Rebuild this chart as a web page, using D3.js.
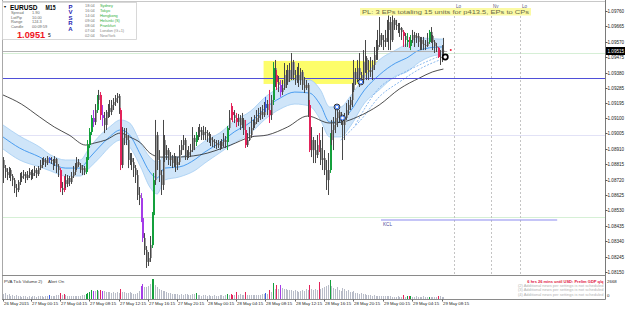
<!DOCTYPE html>
<html><head><meta charset="utf-8">
<script src="https://cdn.jsdelivr.net/npm/d3@7"></script>
<style>body{margin:0;background:#fff;}svg{display:block;}text{font-family:"Liberation Sans",Arial,sans-serif;}</style>
</head><body><svg id="c" width="625" height="309"></svg>
<script>
// ---------------- DATA ----------------
const firstOpen = 1.08841;
const closes = [
1.08791,1.08767,1.08748,1.08779,1.08742,1.08717,1.08668,1.08656,1.08705,1.08730,
1.08742,1.08754,1.08730,1.08748,1.08767,1.08742,1.08761,1.08779,1.08754,1.08791,
1.08810,1.08828,1.08841,1.08822,1.08853,1.08841,1.08835,1.08822,1.08847,1.08804,
1.08779,1.08668,1.08656,1.08717,1.08693,1.08730,1.08705,1.08742,1.08767,1.08791,
1.08828,1.08810,1.08779,1.08791,1.08767,1.08841,1.08933,1.09014,1.09100,1.09075,
1.09149,1.09211,1.09242,1.09118,1.09100,1.09057,1.09137,1.09162,1.09137,1.09180,
1.09199,1.09223,1.09236,1.09149,1.08810,1.08977,1.08995,1.08964,1.08841,1.08853,
1.08828,1.08791,1.08748,1.08625,1.08606,1.08483,1.08360,1.08286,1.08212,1.08236,
1.08316,1.08501,1.08717,1.08995,1.08841,1.08748,1.08687,1.08964,1.08872,1.08902,
1.08841,1.08853,1.08822,1.08853,1.08810,1.08828,1.08902,1.08933,1.08964,1.08865,
1.08872,1.08890,1.08902,1.08977,1.08952,1.08995,1.09014,1.09026,1.08995,1.09014,
1.09007,1.08989,1.08977,1.08964,1.08952,1.08946,1.08933,1.08940,1.08927,1.08952,
1.08964,1.08952,1.09038,1.09100,1.09137,1.09118,1.09100,1.09075,1.09100,1.09057,
1.09088,1.09026,1.08933,1.08964,1.08995,1.09038,1.09057,1.09075,1.09100,1.09118,
1.09137,1.09118,1.09162,1.09186,1.09149,1.09118,1.09211,1.09408,1.09365,1.09322,
1.09304,1.09260,1.09285,1.09365,1.09322,1.09396,1.09347,1.09445,1.09365,1.09334,
1.09365,1.09334,1.09384,1.09304,1.09285,1.09304,1.09180,1.08902,1.08964,1.08902,
1.08872,1.08933,1.08915,1.08841,1.08853,1.08779,1.08717,1.08779,1.08964,1.09026,
1.09057,1.09100,1.09137,1.09118,1.09100,1.09057,1.09100,1.09149,1.09180,1.09211,
1.09273,1.09384,1.09347,1.09408,1.09365,1.09334,1.09445,1.09470,1.09396,1.09384,
1.09396,1.09427,1.09489,1.09519,1.09550,1.09612,1.09581,1.09569,1.09594,1.09643,
1.09692,1.09581,1.09705,1.09674,1.09668,1.09643,1.09655,1.09631,1.09606,1.09581,
1.09569,1.09544,1.09581,1.09612,1.09594,1.09606,1.09569,1.09581,1.09557,1.09550,
1.09544,1.09569,1.09631,1.09606,1.09569,1.09544,1.09532,1.09476,1.09470,1.09507,1.09515];
const highs = [
1.08859,1.08810,1.08791,1.08798,1.08791,1.08754,1.08730,1.08693,1.08717,1.08761,
1.08767,1.08779,1.08767,1.08773,1.08791,1.08779,1.08785,1.08804,1.08791,1.08804,
1.08841,1.08853,1.08859,1.08853,1.08865,1.08859,1.08859,1.08847,1.08865,1.08853,
1.08816,1.08791,1.08705,1.08742,1.08754,1.08748,1.08742,1.08767,1.08804,1.08822,
1.08859,1.08847,1.08822,1.08810,1.08804,1.08859,1.08964,1.09038,1.09118,1.09149,
1.09186,1.09242,1.09273,1.09260,1.09180,1.09137,1.09149,1.09186,1.09211,1.09211,
1.09223,1.09242,1.09254,1.09248,1.09162,1.09044,1.09038,1.09038,1.08995,1.08884,
1.08884,1.08853,1.08810,1.08779,1.08674,1.08637,1.08501,1.08390,1.08310,1.08273,
1.08372,1.08520,1.08761,1.09088,1.09014,1.08902,1.08779,1.09088,1.08995,1.08933,
1.08915,1.08890,1.08872,1.08884,1.08865,1.08859,1.08933,1.08964,1.08995,1.08977,
1.08902,1.08927,1.08940,1.09044,1.08995,1.09014,1.09044,1.09063,1.09044,1.09051,
1.09044,1.09026,1.09014,1.09001,1.08983,1.08970,1.08964,1.08964,1.08958,1.08970,
1.09007,1.08989,1.09051,1.09149,1.09192,1.09174,1.09149,1.09131,1.09125,1.09118,
1.09131,1.09100,1.09088,1.09007,1.09044,1.09106,1.09088,1.09118,1.09149,1.09162,
1.09168,1.09180,1.09199,1.09230,1.09211,1.09273,1.09242,1.09445,1.09458,1.09396,
1.09359,1.09334,1.09334,1.09439,1.09396,1.09427,1.09439,1.09501,1.09458,1.09396,
1.09415,1.09439,1.09408,1.09396,1.09353,1.09334,1.09316,1.09211,1.09044,1.08983,
1.08964,1.08995,1.09007,1.08964,1.09044,1.08902,1.08841,1.08884,1.09007,1.09088,
1.09106,1.09168,1.09168,1.09149,1.09137,1.09106,1.09131,1.09192,1.09211,1.09230,
1.09316,1.09458,1.09408,1.09458,1.09501,1.09384,1.09519,1.09581,1.09482,1.09458,
1.09476,1.09458,1.09538,1.09581,1.09643,1.09723,1.09624,1.09612,1.09643,1.09705,
1.09735,1.09723,1.09735,1.09717,1.09705,1.09686,1.09686,1.09661,1.09643,1.09624,
1.09624,1.09600,1.09612,1.09643,1.09631,1.09624,1.09624,1.09600,1.09600,1.09600,
1.09581,1.09624,1.09643,1.09661,1.09612,1.09581,1.09563,1.09538,1.09519,1.09550,1.09594];
const lows = [
1.08699,1.08730,1.08717,1.08730,1.08711,1.08680,1.08637,1.08613,1.08643,1.08687,
1.08705,1.08724,1.08699,1.08717,1.08730,1.08717,1.08724,1.08742,1.08730,1.08742,
1.08779,1.08791,1.08810,1.08798,1.08810,1.08822,1.08816,1.08779,1.08804,1.08761,
1.08736,1.08643,1.08625,1.08643,1.08668,1.08674,1.08680,1.08693,1.08730,1.08748,
1.08779,1.08798,1.08761,1.08748,1.08748,1.08754,1.08828,1.08915,1.08995,1.09044,
1.09057,1.09131,1.09186,1.09088,1.09051,1.09007,1.09026,1.09100,1.09106,1.09118,
1.09149,1.09174,1.09192,1.09125,1.08779,1.08791,1.08933,1.08933,1.08791,1.08810,
1.08779,1.08736,1.08699,1.08594,1.08563,1.08458,1.08335,1.08255,1.08175,1.08187,
1.08212,1.08298,1.08483,1.08687,1.08779,1.08705,1.08625,1.08656,1.08828,1.08841,
1.08810,1.08804,1.08791,1.08798,1.08767,1.08779,1.08810,1.08872,1.08902,1.08841,
1.08841,1.08853,1.08859,1.08890,1.08902,1.08927,1.08964,1.08983,1.08964,1.08964,
1.08964,1.08952,1.08946,1.08927,1.08921,1.08915,1.08909,1.08915,1.08902,1.08909,
1.08921,1.08915,1.08902,1.09026,1.09088,1.09075,1.09069,1.09044,1.09051,1.09026,
1.09038,1.08995,1.08915,1.08921,1.08958,1.08977,1.09026,1.09038,1.09063,1.09075,
1.09088,1.09094,1.09106,1.09137,1.09118,1.09069,1.09088,1.09180,1.09291,1.09273,
1.09260,1.09230,1.09242,1.09273,1.09285,1.09304,1.09322,1.09334,1.09334,1.09304,
1.09316,1.09291,1.09304,1.09273,1.09254,1.09273,1.09106,1.08890,1.08859,1.08822,
1.08822,1.08853,1.08890,1.08810,1.08779,1.08748,1.08656,1.08625,1.08761,1.08933,
1.08902,1.09007,1.09044,1.09069,1.09057,1.08841,1.08964,1.09088,1.09118,1.09149,
1.09168,1.09260,1.09304,1.09322,1.09291,1.09304,1.09322,1.09378,1.09334,1.09334,
1.09353,1.09334,1.09396,1.09458,1.09458,1.09538,1.09538,1.09519,1.09538,1.09569,
1.09519,1.09519,1.09569,1.09643,1.09643,1.09624,1.09600,1.09581,1.09538,1.09538,
1.09538,1.09532,1.09519,1.09563,1.09538,1.09563,1.09538,1.09519,1.09519,1.09519,
1.09519,1.09538,1.09557,1.09563,1.09519,1.09501,1.09507,1.09470,1.09427,1.09445,1.09476];
const volumes = [
667,800,534,667,400,534,400,534,400,400, 267,400,400,267,400,267,400,400,267,400,
400,400,267,400,400,534,400,400,400,534, 534,800,534,667,534,400,400,400,400,400,
400,400,400,534,534,667,800,934,1201,1067, 1067,1201,1067,1201,1067,1067,934,934,934,800,
934,800,934,800,1334,934,934,800,800,934, 800,667,667,800,1067,1734,2001,1601,1601,1734,
2001,2668,2668,1868,1601,1334,1201,1067,1067,934, 800,800,667,667,667,667,534,667,534,667,
667,534,534,667,667,800,534,534,400,534, 534,400,534,400,400,534,400,400,534,534,
400,534,667,534,667,534,534,934,534,667, 534,534,934,534,534,534,534,534,534,534,
534,667,667,800,667,1201,934,2134,1334,1868, 1334,1868,1467,1334,1334,1201,1201,1201,1067,1201,
1067,934,1067,1201,1067,1334,1201,1868,1334,1201, 1334,1201,2268,1334,1467,1601,1734,1868,2535,1734,
1467,1334,1601,1201,1067,1467,1334,1067,1201,934, 934,1067,800,800,667,800,667,667,534,534,
534,400,534,400,400,400,400,400,400,400, 400,400,267,267,267,400,267,267,534,267,
400,400,400,267,267,400,267,267,267,400, 267,267,267,267,267,267,267,400,400,267,267];
// PVA candle classes (bar indices)
const climaxBull = [45,46,47,48,51,81,82,105,122,147,178,220,222,232];
const climaxBear = [31,33,53,64,124,125,127,132,145,149,167,172,218,221,237];
const risingBull = [25,143];
const risingBear = [49,54,75,76,151];
// slow moving average (bar index, price)
const maSlowBars = [0,10,20,28,36,45,50,56,64,69,75,80,86,94,107,124,135,144,155,166,178,185,193,205,216,227,234,240];
const maSlow = [1.09242,1.09186,1.09106,1.09044,1.08995,1.08933,1.08946,1.08964,1.09007,1.08983,1.08946,1.08884,1.08859,1.08859,1.08872,1.08933,1.08983,1.08995,1.09044,1.09112,1.09069,1.09075,1.09106,1.09180,1.09279,1.09347,1.09384,1.09402];
// envelope band (bar index, upper, middle, lower)
const bandBars = [0,9,20,26,34,42,47,53,58,64,69,75,80,84,88,96,105,110,118,126,135,143,151,159,167,173,178,184,189,197,205,214,220,227,238,240];
const bandUpper = [1.09057,1.08989,1.08921,1.08872,1.08841,1.08841,1.08915,1.08995,1.09044,1.09088,1.09069,1.08946,1.08859,1.08828,1.08865,1.08859,1.08915,1.08958,1.09007,1.09081,1.09143,1.09230,1.09291,1.09334,1.09334,1.09273,1.09168,1.09168,1.09230,1.09353,1.09458,1.09519,1.09557,1.09594,1.09587,1.09587];
const bandMid = [1.08983,1.08915,1.08859,1.08822,1.08791,1.08791,1.08853,1.08927,1.08983,1.09026,1.08995,1.08872,1.08767,1.08730,1.08791,1.08798,1.08847,1.08890,1.08946,1.09014,1.09075,1.09162,1.09223,1.09260,1.09254,1.09180,1.09075,1.09075,1.09137,1.09273,1.09365,1.09439,1.09470,1.09519,1.09538,1.09538];
const bandLower = [1.08909,1.08841,1.08798,1.08773,1.08742,1.08742,1.08791,1.08859,1.08921,1.08964,1.08921,1.08798,1.08674,1.08631,1.08717,1.08736,1.08779,1.08822,1.08884,1.08946,1.09007,1.09094,1.09155,1.09186,1.09174,1.09088,1.08983,1.08983,1.09044,1.09192,1.09273,1.09359,1.09384,1.09445,1.09489,1.09489];
// dashed projection lines
const dashABars = [184,195,205,216,228,238];
const dashA = [1.08964,1.09088,1.09230,1.09322,1.09408,1.09458];
const dashBBars = [192,205,216,228,238];
const dashB = [1.09057,1.09285,1.09365,1.09433,1.09482];
// levels
const blueLevel = 1.09347, lavenderLevel = 1.08995, greenLevelLow = 1.08489, greenLevelHigh = 1.09501, bidPrice = 1.09515;
const kclLevel = 1.08471, kclFrom = "2015-05-29 00:00", kclTo = "2015-05-30 00:00";
const zoneFrom = "2015-05-28 08:00", zoneTo = "2015-05-29 00:15", zoneHigh = 1.09452, zoneLow = 1.09310;
const sessionTimes = ["2015-05-29 10:00","2015-05-29 15:00","2015-05-29 19:00"];
const sessionNames = ["Lo","Ny","Lo"];
const epTimes = ["2015-05-28 18:00","2015-05-28 18:45","2015-05-28 21:15"];
const epPrices = [1.09168,1.09100,1.09322];
const cpTime = "2015-05-29 08:45", cpPrice = 1.09476;
const redDotTime = "2015-05-29 09:30", redDotPrice = 1.09519;
const priceTicks = [1.09760,1.09665,1.09570,1.09475,1.09380,1.09285,1.09195,1.09100,1.09005,1.08910,1.08815,1.08720,1.08625,1.08530,1.08435,1.08340,1.08245,1.08150];
const dateTickTimes = ["2015-05-26 20:30","2015-05-27 00:15","2015-05-27 04:15","2015-05-27 08:15","2015-05-27 12:15","2015-05-27 16:15","2015-05-27 20:15","2015-05-28 00:15","2015-05-28 04:15","2015-05-28 08:15","2015-05-28 12:15","2015-05-28 16:15","2015-05-28 20:15","2015-05-29 00:15","2015-05-29 04:15","2015-05-29 08:15"];
const dateTickLabels = ["26 May 2015","27 May 00:15","27 May 04:15","27 May 08:15","27 May 12:15","27 May 16:15","27 May 20:15","28 May 00:15","28 May 04:15","28 May 08:15","28 May 12:15","28 May 16:15","28 May 20:15","29 May 00:15","29 May 04:15","29 May 08:15"];
const volMax = 2668;
const infoLabels = ["Spread","LotPip","Range","Candle"];
const infoValues = ["1.90","10.00","124.3","00:09:59"];
const clockTimes = ["18:04","16:04","14:04","09:04","08:04","07:04","02:04"];
const clockCities = ["Sydney","Tokyo","Hongkong","Helsinki (S)","Frankfurt","London (G+1)","NewYork"];
const clockOpen = [true,true,true,true,true,false,false];
const newsLines = ["6 hrs 26 mins until USD: Prelim GDP q/q","(2) Additional news per settings is not scheduled","(3) Additional news per settings is not scheduled","(4) Additional news per settings is not scheduled"];
const plText = "PL: 3 EPs totaling 15 units for p413.5, EPs to CPs";

// ---------------- CHART ----------------
const svg = d3.select("#c");
const parse = d3.timeParse("%Y-%m-%d %H:%M");
const t0 = parse("2015-05-26 20:30");
const barT = i => d3.timeMinute.offset(t0, 15*i);
const x = d3.scaleTime().domain([t0, barT(328)]).range([3, 604.9]);
const y = d3.scaleLinear().domain([1.0815, 1.0976]).range([272, 11]);
const vy = d3.scaleLinear().domain([0, volMax]).range([299, 279]);
const L = 2, R = 605.5, PT = 1.5, PB = 275.5, VB = 299.5;

svg.append("rect").attr("width",625).attr("height",309).attr("fill","#fff");
svg.append("clipPath").attr("id","mc").append("rect").attr("x",L+0.5).attr("y",PT+0.5).attr("width",R-L-1).attr("height",PB-PT-1);
const main = svg.append("g").attr("clip-path","url(#mc)");

// zone
main.append("rect").attr("x",x(parse(zoneFrom))).attr("width",x(parse(zoneTo))-x(parse(zoneFrom)))
  .attr("y",y(zoneHigh)).attr("height",y(zoneLow)-y(zoneHigh)).attr("fill","#fdfd6a");

// faint levels
const hline = (p,c,w,x1,x2)=>main.append("line").attr("x1",x1==null?L:x1).attr("x2",x2==null?R:x2)
  .attr("y1",Math.round(y(p))+0.5).attr("y2",Math.round(y(p))+0.5).attr("stroke",c).attr("stroke-width",w);
hline(lavenderLevel,"#e2e2f6",1);
hline(greenLevelLow,"#d6f0d6",1);
hline(greenLevelHigh,"#d6efd6",1);

// band
const bx = i=>x(barT(bandBars[i]));
const area = d3.area().x((d,i)=>bx(i)).y0((d,i)=>y(bandLower[i])).y1((d,i)=>y(bandUpper[i])).curve(d3.curveMonotoneX);
main.append("path").attr("d",area(bandBars)).attr("fill","#cfe5f9");
const lineOf = (bars, vals) => d3.line().x((d,i)=>x(barT(bars[i]))).y((d,i)=>y(vals[i])).curve(d3.curveMonotoneX)(bars);
main.append("path").attr("d",lineOf(bandBars,bandUpper)).attr("fill","none").attr("stroke","#a3cdf3").attr("stroke-width",0.8);
main.append("path").attr("d",lineOf(bandBars,bandLower)).attr("fill","none").attr("stroke","#a3cdf3").attr("stroke-width",0.8);
main.append("path").attr("d",lineOf(bandBars,bandMid)).attr("fill","none").attr("stroke","#3b94ee").attr("stroke-width",0.9);
main.append("path").attr("d",lineOf(dashABars,dashA)).attr("fill","none").attr("stroke","#6fa8ea").attr("stroke-width",0.8).attr("stroke-dasharray","2,1.5");
main.append("path").attr("d",lineOf(dashBBars,dashB)).attr("fill","none").attr("stroke","#6fa8ea").attr("stroke-width",0.8).attr("stroke-dasharray","2,1.5");
main.append("path").attr("d",lineOf(maSlowBars,maSlow)).attr("fill","none").attr("stroke","#222").attr("stroke-width",0.8);

// blue level + bid line
hline(blueLevel,"#4f4fd8",1.2);
hline(bidPrice,"#b4b4b4",1,L,x(barT(closes.length))+2);

// candles
const cls = i => climaxBull.includes(i)?"#14a03c":climaxBear.includes(i)?"#e3235a":risingBull.includes(i)?"#3a5ce2":risingBear.includes(i)?"#a43ce8":null;
const bars = d3.range(closes.length).map(i=>({i, o:i?closes[i-1]:firstOpen, c:closes[i], h:highs[i], l:lows[i], v:volumes[i], col:cls(i)}));
const cg = main.append("g");
bars.forEach(b=>{
  const X = Math.round(x(barT(b.i)));
  const top = Math.min(y(b.o),y(b.c)), bot = Math.max(y(b.o),y(b.c));
  cg.append("rect").attr("x",X).attr("width",2).attr("y",top).attr("height",Math.max(1,bot-top)).attr("fill",b.col||"#9c9c9c");
  cg.append("line").attr("x1",X+0.5).attr("x2",X+0.5).attr("y1",y(b.h)).attr("y2",y(b.l)).attr("stroke",b.col||"#484848").attr("stroke-width",1);
});

// session lines
sessionTimes.forEach((t,k)=>{
  const X = Math.round(x(parse(t)))+0.5;
  main.append("line").attr("x1",X).attr("x2",X).attr("y1",8).attr("y2",PB).attr("stroke","#c4c4c4").attr("stroke-dasharray","2,2");
  svg.append("text").attr("x",X+1.5).attr("y",7.5).attr("font-size",4.6).attr("fill","#5a5a78").text(sessionNames[k]);
});

// KCL
main.append("line").attr("x1",x(parse(kclFrom))).attr("x2",x(parse(kclTo))).attr("y1",y(kclLevel)).attr("y2",y(kclLevel)).attr("stroke","#8c8cef").attr("stroke-width",1.1);
svg.append("text").attr("x",x(parse(kclFrom))+2).attr("y",y(kclLevel)+6).attr("font-size",4.6).attr("fill","#4a4a9a").text("KCL");

// markers
epTimes.forEach((t,k)=>{
  const g = main.append("g").attr("transform",`translate(${x(parse(t))},${y(epPrices[k])})`);
  g.append("circle").attr("r",2.9).attr("fill","#fff").attr("stroke","#111").attr("stroke-width",0.9);
  g.append("circle").attr("r",1.9).attr("fill","#fff").attr("stroke","#2d6df5").attr("stroke-width",1);
});
main.append("circle").attr("cx",x(parse(cpTime))).attr("cy",y(cpPrice)).attr("r",2.6).attr("fill","#fff").attr("stroke","#000").attr("stroke-width",1.7);
main.append("circle").attr("cx",x(parse(redDotTime))).attr("cy",y(redDotPrice)).attr("r",1).attr("fill","#e8203a");

// PL box
const plx = 360, ply = 8;
svg.append("rect").attr("x",plx).attr("y",ply).attr("width",171).attr("height",7.5).attr("fill","#fbfaa4");
svg.append("text").attr("x",plx+2).attr("y",ply+5.6).attr("font-family","'Liberation Mono',monospace").attr("font-size",5.6)
  .attr("textLength",167).attr("lengthAdjust","spacingAndGlyphs").attr("fill","#6b6b48").text(plText);

// volume pane
const vg = svg.append("g");
bars.forEach(b=>{
  const X = Math.round(x(barT(b.i)))+0.5;
  vg.append("line").attr("x1",X).attr("x2",X).attr("y1",vy(b.v)).attr("y2",299).attr("stroke",b.col||"#b8bcc8").attr("stroke-width",1);
});
svg.append("text").attr("x",4).attr("y",283).attr("font-size",4.4).attr("fill","#333").text("PVA Tick Volume 2)");
svg.append("text").attr("x",48).attr("y",283).attr("font-size",4.4).attr("fill","#333").text("Alert On");
newsLines.forEach((s,k)=>{
  svg.append("text").attr("x",603.5).attr("y",282.5+k*4.4).attr("text-anchor","end").attr("font-size",4)
    .attr("fill",k?"#b2b2b2":"#e0143c").attr("font-weight",k?"normal":"bold").text(s);
});

// frame
const fl = (x1,y1,x2,y2,c)=>svg.append("line").attr("x1",x1).attr("y1",y1).attr("x2",x2).attr("y2",y2).attr("stroke",c).attr("stroke-width",1);
fl(L+0.5,0,L+0.5,VB,"#a8a8a8");
fl(L,PT,R,PT,"#c8c8c8");
fl(R,0,R,VB,"#7a7a7a");
fl(L,PB,R,PB,"#8a8a8a");
fl(L,VB,R,VB,"#8a8a8a");

// price axis
priceTicks.forEach(p=>{
  const Y = Math.round(y(p))+0.5;
  fl(R,Y,R+2,Y,"#555");
  svg.append("text").attr("x",607.5).attr("y",Y+1.7).attr("font-size",4.6).attr("fill","#222").text(d3.format(".5f")(p));
});
const by = Math.round(y(bidPrice));
svg.append("rect").attr("x",606).attr("y",by-4).attr("width",19).attr("height",8).attr("fill","#000");
svg.append("text").attr("x",607.5).attr("y",by+1.8).attr("font-size",4.6).attr("fill","#fff").text(d3.format(".5f")(bidPrice));
svg.append("text").attr("x",607).attr("y",282.5).attr("font-size",4.4).attr("fill","#222").text(String(volMax));
svg.append("text").attr("x",607).attr("y",297).attr("font-size",4.4).attr("fill","#222").text("0");

// date axis
dateTickTimes.forEach((t,k)=>{
  const X = Math.round(x(parse(t)))+0.5;
  fl(X,VB,X,VB+2,"#666");
  svg.append("text").attr("x",X+0.5).attr("y",305).attr("font-size",4.3).attr("fill","#222").text(dateTickLabels[k]);
});

// info panel
const ip = svg.append("g");
ip.append("rect").attr("x",2.5).attr("y",2.5).attr("width",134).attr("height",37).attr("fill","#fff").attr("stroke","#cfcfcf").attr("stroke-width",0.8);
ip.append("text").attr("x",3.2).attr("y",7.6).attr("font-size",3.6).attr("fill","#000").text("▼");
ip.append("text").attr("x",10).attr("y",9.6).attr("font-size",6.8).attr("font-weight","bold").attr("fill","#000")
  .attr("textLength",27.5).attr("lengthAdjust","spacingAndGlyphs").text("EURUSD");
ip.append("text").attr("x",45.5).attr("y",9.6).attr("font-size",6.8).attr("font-weight","bold").attr("fill","#000")
  .attr("textLength",10).attr("lengthAdjust","spacingAndGlyphs").text("M15");
infoLabels.forEach((s,k)=>{
  ip.append("text").attr("x",11).attr("y",14+k*4.5).attr("font-size",3.9).attr("fill","#666").text(s);
  ip.append("text").attr("x",32).attr("y",14+k*4.5).attr("font-size",3.9).attr("fill","#666").text(infoValues[k]);
});
ip.append("text").attr("x",17).attr("y",37.5).attr("font-size",9.2).attr("font-weight","bold").attr("fill","#f0141e").text(d3.format(".4f")(Math.floor(bidPrice*1e4)/1e4));
ip.append("text").attr("x",48).attr("y",37.3).attr("font-size",5).attr("fill","#000").text(String(Math.round(bidPrice*1e5)%10));
["P","V","S","R","A"].forEach((s,k)=>{
  ip.append("text").attr("x",70.5).attr("y",8.5+k*5.6).attr("text-anchor","middle").attr("font-size",6).attr("font-weight","bold").attr("fill","#1e22b0").text(s);
});
clockTimes.forEach((s,k)=>{
  ip.append("text").attr("x",85).attr("y",6.6+k*5).attr("font-size",3.9).attr("fill","#777").text(s);
  ip.append("text").attr("x",100).attr("y",6.6+k*5).attr("font-size",3.9).attr("fill",clockOpen[k]?"#2fae3a":"#8a8a8a").text(clockCities[k]);
});
</script></body></html>
